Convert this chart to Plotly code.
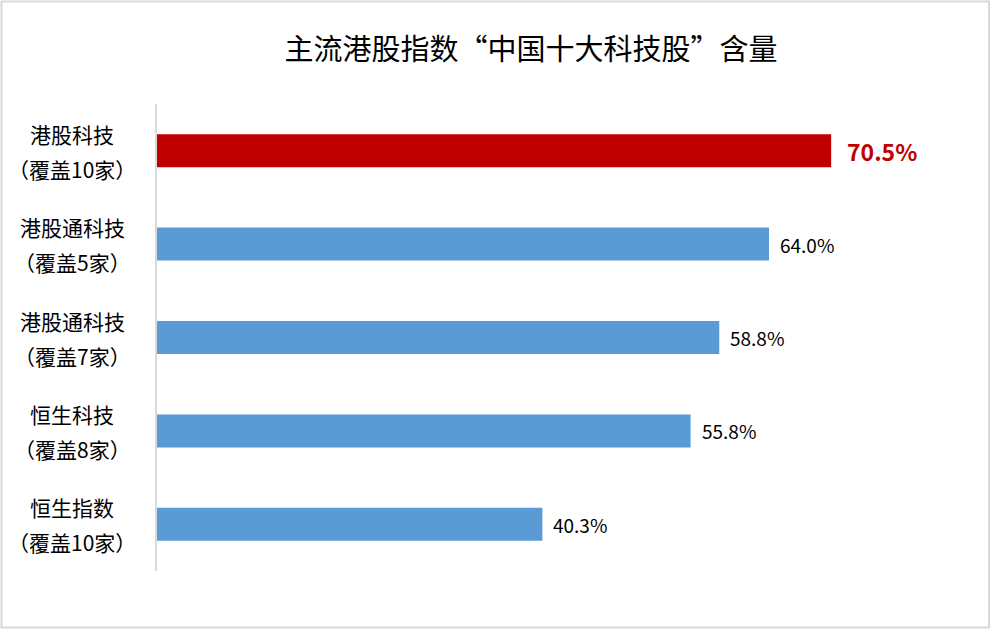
import plotly.graph_objects as go

# data, top to bottom
index_names = ['港股科技', '港股通科技', '港股通科技', '恒生科技', '恒生指数']
coverage = ['（覆盖10家）', '（覆盖5家）', '（覆盖7家）', '（覆盖8家）', '（覆盖10家）']
share = [70.5, 64.0, 58.8, 55.8, 40.3]
highlight = [True, False, False, False, False]

RED = '#C00000'
BLUE = '#5B9BD5'
FONT = 'Microsoft YaHei, Noto Sans CJK SC, sans-serif'

cats = [n + '|' + c for n, c in zip(index_names, coverage)]
colors = [RED if h else BLUE for h in highlight]

fig = go.Figure(go.Bar(
    x=share, y=cats, orientation='h',
    marker=dict(color=colors, line=dict(width=0)),
    hoverinfo='x+y',
))

annotations = []
for cat, name, cov, val, hi in zip(cats, index_names, coverage, share, highlight):
    # value label at bar end
    annotations.append(dict(
        x=val, y=cat, xref='x', yref='y', text=f'{val:.1f}%',
        showarrow=False, xanchor='left', yanchor='middle',
        xshift=14 if hi else 9,
        font=dict(family=FONT, size=23 if hi else 19, color=RED if hi else '#000000',
                  weight='bold' if hi else 'normal'),
    ))
    # two-line category label, centred
    annotations.append(dict(
        x=-0.111, y=cat, xref='paper', yref='y', text=name,
        showarrow=False, xanchor='center', yanchor='middle', yshift=17,
        font=dict(family=FONT, size=21, color='#000000'),
    ))
    annotations.append(dict(
        x=-0.111, y=cat, xref='paper', yref='y', text=cov,
        showarrow=False, xanchor='center', yanchor='middle', yshift=-18,
        font=dict(family=FONT, size=21, color='#000000'),
    ))

fig.update_layout(
    width=991, height=630,
    margin=dict(l=157, r=69, t=104, b=59),
    paper_bgcolor='white', plot_bgcolor='white',
    title=dict(text='主流港股指数“中国十大科技股”含量',
               x=531 / 991, xref='container', xanchor='center',
               y=1 - 50 / 630, yref='container', yanchor='middle',
               font=dict(family=FONT, size=29, color='#000000')),
    bargap=0.647,
    showlegend=False,
    xaxis=dict(range=[0, 80], visible=False, fixedrange=True),
    yaxis=dict(autorange='reversed', showticklabels=False, ticks='',
               showgrid=False, zeroline=False,
               showline=True, linecolor='#D9D9D9', linewidth=2),
    annotations=annotations,
    shapes=[dict(type='rect', xref='paper', yref='paper',
                 x0=-0.2033, x1=1.0876, y0=-0.121, y1=1.2195,
                 line=dict(color='#D9D9D9', width=2))],
)

# drop the default page margin so the figure sits at the window corner
fig.write_html('out.html', config={'displayModeBar': False},
               post_script="document.body.style.margin='0';")
